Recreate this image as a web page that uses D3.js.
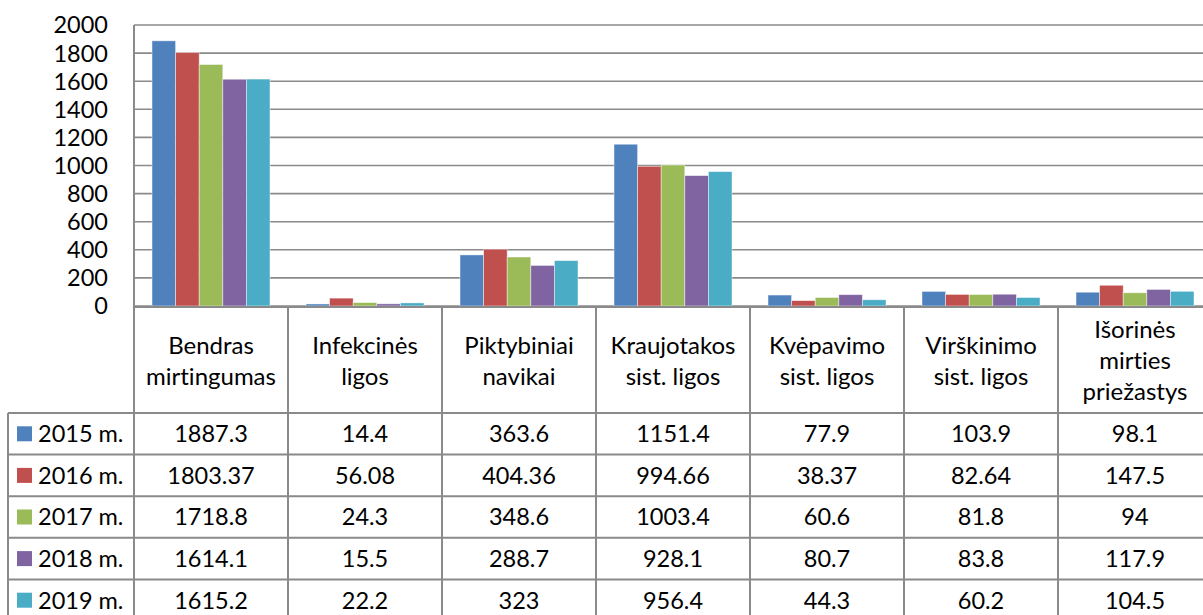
<!DOCTYPE html>
<html>
<head>
<meta charset="utf-8">
<script src="https://cdn.jsdelivr.net/npm/d3@7"></script>
<style>
  body { margin: 0; background: #fff; }
  text { font-family: Lato, "Open Sans", sans-serif; fill: #000; font-variant-ligatures: none; }
</style>
</head>
<body>
<script>
// categories (header lines split by \n)
var categories = [
    "Bendras\nmirtingumas",
    "Infekcinės\nligos",
    "Piktybiniai\nnavikai",
    "Kraujotakos\nsist. ligos",
    "Kvėpavimo\nsist. ligos",
    "Virškinimo\nsist. ligos",
    "Išorinės\nmirties\npriežastys"
];

var years = ["2015 m.", "2016 m.", "2017 m.", "2018 m.", "2019 m."];
var colors = ["#4F81BD", "#C0504D", "#9BBB59", "#8064A2", "#4BACC6"];

var s2015 = [1887.3, 14.4, 363.6, 1151.4, 77.9, 103.9, 98.1];
var s2016 = [1803.37, 56.08, 404.36, 994.66, 38.37, 82.64, 147.5];
var s2017 = [1718.8, 24.3, 348.6, 1003.4, 60.6, 81.8, 94];
var s2018 = [1614.1, 15.5, 288.7, 928.1, 80.7, 83.8, 117.9];
var s2019 = [1615.2, 22.2, 323, 956.4, 44.3, 60.2, 104.5];

var yTicks = [0, 200, 400, 600, 800, 1000, 1200, 1400, 1600, 1800, 2000];

var series = [s2015, s2016, s2017, s2018, s2019];

var width = 1203, height = 615;
var plotLeft = 134, plotRight = 1212, plotTop = 25, base = 306;
var headerBottom = 413, rowH = 41.6, legendLeft = 8;
var gridColor = "#8a8a8a";
var numSize = "23.5px";
var wordSize = "24px";

var svg = d3.select("body").append("svg")
    .attr("width", width)
    .attr("height", height);

var x = d3.scaleBand()
    .domain(d3.range(categories.length))
    .range([plotLeft, plotRight]);

var x1 = d3.scaleBand()
    .domain(d3.range(years.length))
    .range([18, x.bandwidth() - 18]);

var y = d3.scaleLinear()
    .domain([0, 2000])
    .range([base, plotTop]);

// gridlines
svg.append("g")
    .selectAll("line")
    .data(yTicks)
    .enter()
    .append("line")
    .attr("x1", plotLeft)
    .attr("x2", plotRight)
    .attr("y1", function(d) { return y(d); })
    .attr("y2", function(d) { return y(d); })
    .attr("stroke", gridColor)
    .attr("stroke-width", 1.6);

// y labels
svg.append("g")
    .selectAll("text")
    .data(yTicks)
    .enter()
    .append("text")
    .attr("x", 108)
    .attr("y", function(d) { return y(d); })
    .attr("dy", "0.36em")
    .attr("text-anchor", "end")
    .style("font-size", numSize)
    .text(function(d) { return d; });

// bars
var groups = svg.append("g")
    .selectAll("g")
    .data(series)
    .enter()
    .append("g")
    .attr("fill", function(d, i) { return colors[i]; });

groups.each(function(s, si) {
    d3.select(this).selectAll("rect")
        .data(s)
        .enter()
        .append("rect")
        .attr("x", function(d, ci) { return x(ci) + x1(si); })
        .attr("width", x1.bandwidth())
        .attr("y", function(d) { return y(d); })
        .attr("height", function(d) { return base - y(d); })
        .attr("stroke", "rgba(255,255,255,0.55)")
        .attr("stroke-width", 0.8);
});

// axis lines
svg.append("line")
    .attr("x1", plotLeft).attr("x2", plotLeft)
    .attr("y1", plotTop).attr("y2", height)
    .attr("stroke", gridColor).attr("stroke-width", 2);
svg.append("line")
    .attr("x1", plotLeft).attr("x2", plotRight)
    .attr("y1", base + 1).attr("y2", base + 1)
    .attr("stroke", gridColor).attr("stroke-width", 2);

// table
var table = svg.append("g");

// vertical separators
table.selectAll("line.v")
    .data(d3.range(1, categories.length + 1))
    .enter()
    .append("line")
    .attr("class", "v")
    .attr("x1", function(d) { return x(d) !== undefined ? x(d) : plotRight; })
    .attr("x2", function(d) { return x(d) !== undefined ? x(d) : plotRight; })
    .attr("y1", base)
    .attr("y2", height)
    .attr("stroke", gridColor)
    .attr("stroke-width", 2);

table.append("line")
    .attr("x1", legendLeft).attr("x2", legendLeft)
    .attr("y1", headerBottom).attr("y2", height)
    .attr("stroke", gridColor).attr("stroke-width", 2);

// row lines
table.selectAll("line.h")
    .data(d3.range(years.length + 1))
    .enter()
    .append("line")
    .attr("class", "h")
    .attr("x1", legendLeft)
    .attr("x2", plotRight)
    .attr("y1", function(d) { return headerBottom + d * rowH; })
    .attr("y2", function(d) { return headerBottom + d * rowH; })
    .attr("stroke", gridColor)
    .attr("stroke-width", 2);

// header labels
var headerMid = (base + headerBottom) / 2 + 1;
categories.forEach(function(c, ci) {
    var lines = c.split("\n");
    var lh = 31;
    var t = table.append("text")
        .attr("text-anchor", "middle")
        .style("font-size", wordSize);
    lines.forEach(function(l, li) {
        t.append("tspan")
            .attr("x", x(ci) + x.bandwidth() / 2)
            .attr("y", headerMid + (li - (lines.length - 1) / 2) * lh)
            .attr("dy", "0.36em")
            .text(l);
    });
});

// legend column + values
years.forEach(function(yr, si) {
    var cy = headerBottom + si * rowH + rowH / 2;
    table.append("rect")
        .attr("x", 17)
        .attr("y", cy - 7.5)
        .attr("width", 15)
        .attr("height", 15)
        .attr("fill", colors[si]);
    table.append("text")
        .attr("x", 38)
        .attr("y", cy)
        .attr("dy", "0.36em")
        .style("font-size", numSize)
        .text(yr);
    series[si].forEach(function(v, ci) {
        table.append("text")
            .attr("x", x(ci) + x.bandwidth() / 2)
            .attr("y", cy)
            .attr("dy", "0.36em")
            .attr("text-anchor", "middle")
            .style("font-size", numSize)
            .text(String(v));
    });
});
</script>
</body>
</html>
